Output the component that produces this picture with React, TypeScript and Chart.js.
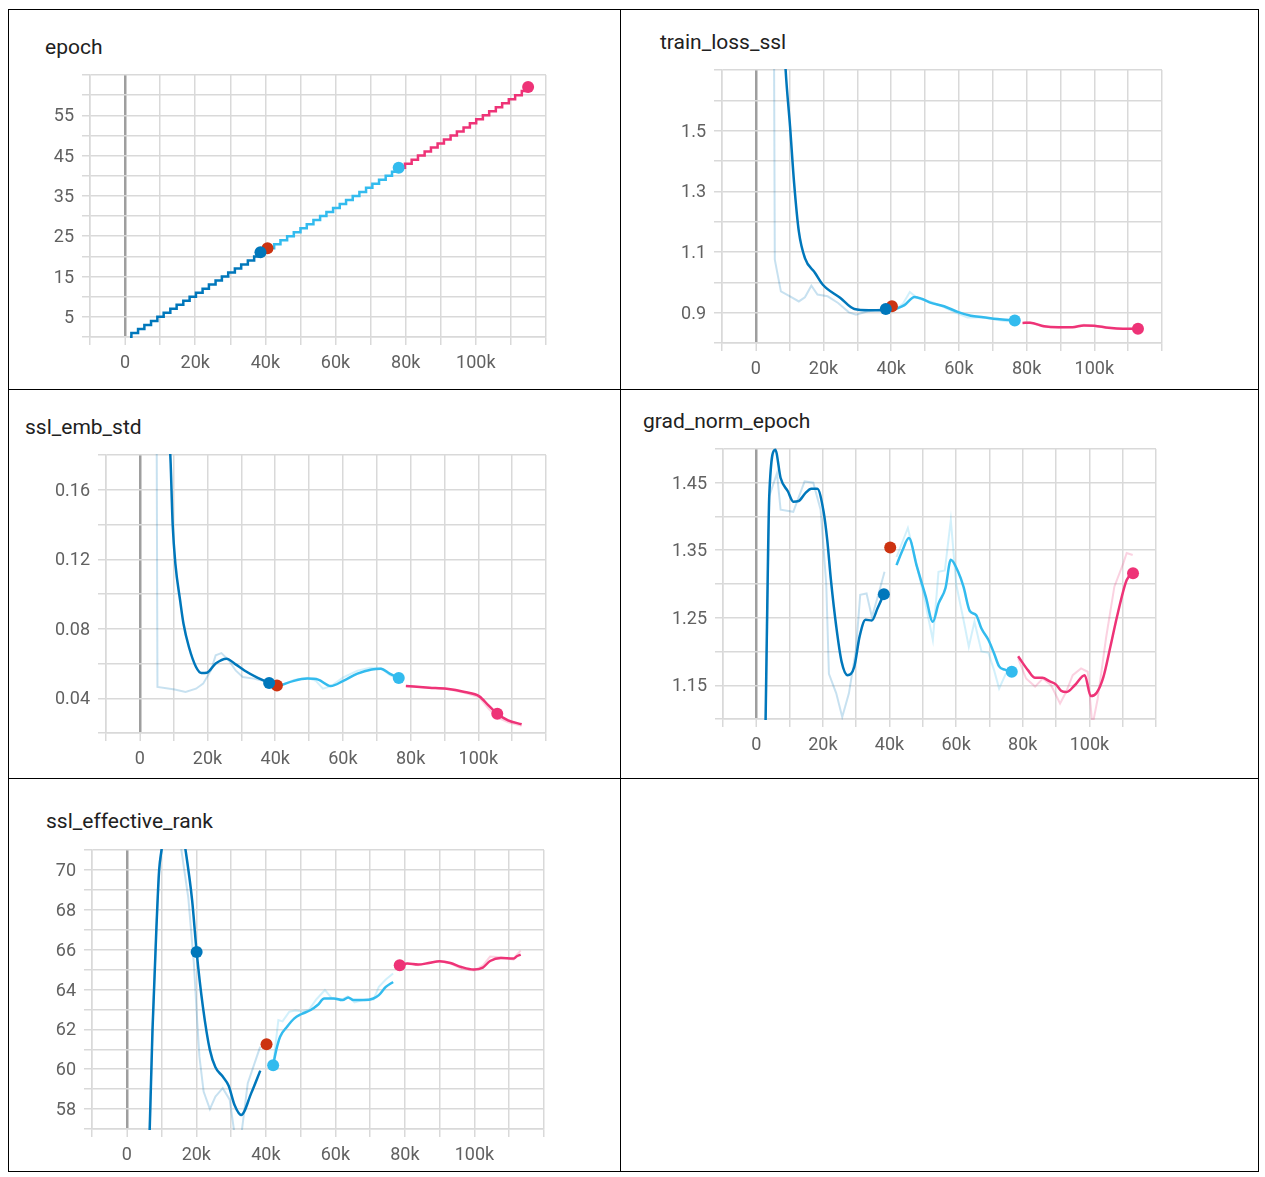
import React, { useEffect, useRef } from 'react';
import { Chart, registerables } from 'chart.js';

Chart.register(...registerables);

// ---------- colours (TensorBoard run palette) ----------
const BLUE = '#0077bb';
const RED = '#cc3311';
const CYAN = '#33bbee';
const MAGENTA = '#ee3377';
const GRID = '#d9d9d9';
const ZERO_LINE = '#9e9e9e';
const TICK_TEXT = '#616161';
const TITLE_TEXT = '#212121';

// ---------- x axis (steps, in thousands) ----------
const xTickLabels = [0, 20, 40, 60, 80, 100];

// ---------- epoch ----------
const epochYLabels = [5, 15, 25, 35, 45, 55];
const epochBlueSteps = [1.4, 1.8, 3.7, 5.5, 7.4, 9.2, 11.0, 12.9, 14.7, 16.6, 18.4, 20.2, 22.1, 23.9, 25.8, 27.6, 29.4, 31.3, 33.1, 35.0, 36.8, 38.6];
const epochBlueValues = [0, 1, 2, 3, 4, 5, 6, 7, 8, 9, 10, 11, 12, 13, 14, 15, 16, 17, 18, 19, 20, 21];
const epochCyanSteps = [40.6, 42.5, 44.3, 46.2, 48.1, 50.0, 51.8, 53.7, 55.6, 57.4, 59.3, 61.2, 63.0, 64.9, 66.8, 68.7, 70.5, 72.4, 74.3, 76.1, 78.0];
const epochCyanValues = [22, 23, 24, 25, 26, 27, 28, 29, 30, 31, 32, 33, 34, 35, 36, 37, 38, 39, 40, 41, 42];
const epochMagentaSteps = [78.0, 79.8, 81.7, 83.5, 85.4, 87.2, 89.1, 90.9, 92.8, 94.6, 96.5, 98.3, 100.1, 102.0, 103.8, 105.7, 107.5, 109.4, 111.2, 113.1, 114.9];
const epochMagentaValues = [42, 43, 44, 45, 46, 47, 48, 49, 50, 51, 52, 53, 54, 55, 56, 57, 58, 59, 60, 61, 62];
const epochDotSteps = [40.6, 78.0, 114.9, 38.6];
const epochDotValues = [22, 42, 62, 21];

// ---------- train_loss_ssl ----------
const lossYLabels = [0.9, 1.1, 1.3, 1.5];
const lossBlueSteps = [5.1, 7.5, 8.8, 10.1, 11.3, 12.7, 14.5, 17.5, 19.8, 24.9, 29.1, 33.4, 36.7, 38.4];
const lossBlueSmooth = [2.6, 2.0, 1.7, 1.515, 1.328, 1.168, 1.08, 1.031, 0.992, 0.949, 0.912, 0.908, 0.908, 0.912];
const lossBlueRawSteps = [5.1, 5.6, 7.4, 10.1, 12.7, 14.5, 16.4, 18.2, 21.2, 24.3, 27.5, 29.6, 33.4, 36.2, 38.4];
const lossBlueRaw = [2.6, 1.075, 0.97, 0.954, 0.937, 0.951, 0.989, 0.96, 0.954, 0.932, 0.901, 0.893, 0.905, 0.91, 0.912];
const lossCyanSteps = [41.3, 43.9, 46.9, 49.2, 51.3, 55.6, 59.8, 63.5, 67.2, 71.4, 76.5];
const lossCyanSmooth = [0.912, 0.925, 0.952, 0.945, 0.934, 0.921, 0.902, 0.89, 0.885, 0.879, 0.874];
const lossCyanRawSteps = [41.3, 43.5, 45.5, 47.5, 49.5, 52.0, 55.5, 58.0, 60.0, 62.5, 65.0, 68.0, 71.5, 74.0, 76.5];
const lossCyanRaw = [0.912, 0.93, 0.968, 0.95, 0.942, 0.935, 0.918, 0.905, 0.895, 0.884, 0.885, 0.882, 0.876, 0.872, 0.874];
const lossMagentaSteps = [78.8, 81.0, 85.2, 89.4, 93.6, 96.9, 100.0, 104.3, 108.5, 112.9];
const lossMagentaSmooth = [0.866, 0.867, 0.855, 0.852, 0.852, 0.858, 0.857, 0.85, 0.847, 0.847];
const lossMagentaRaw = [0.866, 0.868, 0.853, 0.851, 0.853, 0.86, 0.856, 0.849, 0.846, 0.848];
const lossDotSteps = [40.2, 76.5, 112.9, 38.4];
const lossDotValues = [0.921, 0.874, 0.847, 0.912];

// ---------- ssl_emb_std ----------
const stdYLabels = [0.04, 0.08, 0.12, 0.16];
const stdBlueSteps = [4.8, 7.0, 9.0, 9.7, 10.5, 11.9, 12.9, 14.5, 16.6, 18.2, 19.8, 22.4, 25.6, 28.3, 30.9, 34.7, 38.2];
const stdBlueSmooth = [0.3, 0.22, 0.18, 0.14, 0.1174, 0.0963, 0.0829, 0.0695, 0.058, 0.0545, 0.0547, 0.06, 0.0628, 0.0595, 0.056, 0.0519, 0.0488];
const stdBlueRawSteps = [4.8, 5.2, 10.3, 13.5, 16.6, 18.7, 21.0, 22.4, 24.1, 26.3, 28.3, 30.4, 33.6, 37.9];
const stdBlueRaw = [0.3, 0.0465, 0.045, 0.0436, 0.0455, 0.0484, 0.056, 0.0647, 0.066, 0.0618, 0.056, 0.0522, 0.0513, 0.0493];
const stdCyanSteps = [41.5, 45.5, 49.5, 52.7, 56.4, 60.1, 64.3, 68.5, 71.2, 73.8, 76.5];
const stdCyanSmooth = [0.0474, 0.05, 0.0513, 0.0507, 0.047, 0.05, 0.0542, 0.0566, 0.057, 0.0542, 0.0516];
const stdCyanRawSteps = [41.5, 45.5, 49.5, 52.0, 54.1, 56.5, 60.1, 64.3, 68.0, 71.2, 73.8, 76.5];
const stdCyanRaw = [0.0474, 0.0505, 0.0518, 0.05, 0.0455, 0.047, 0.052, 0.0558, 0.0575, 0.0574, 0.0535, 0.051];
const stdMagentaSteps = [78.6, 85.5, 90.7, 96.0, 100.3, 103.0, 105.6, 108.8, 112.8];
const stdMagentaSmooth = [0.047, 0.0461, 0.0455, 0.0436, 0.0411, 0.0359, 0.0311, 0.0273, 0.025];
const stdMagentaRaw = [0.047, 0.046, 0.0453, 0.0432, 0.0405, 0.034, 0.029, 0.0262, 0.0242];
const stdDotSteps = [40.5, 76.5, 105.6, 38.2];
const stdDotValues = [0.0474, 0.0516, 0.0311, 0.0488];

// ---------- grad_norm_epoch ----------
const gradYLabels = [1.15, 1.25, 1.35, 1.45];
const gradBlueSteps = [2.5, 3.2, 3.9, 5.7, 7.3, 9.5, 11.1, 12.7, 14.8, 16.5, 18.3, 20.2, 21.3, 22.4, 24.0, 25.6, 27.4, 29.4, 31.0, 32.8, 34.7, 36.4, 38.3];
const gradBlueSmooth = [1.0, 1.237, 1.432, 1.499, 1.457, 1.437, 1.422, 1.423, 1.435, 1.441, 1.441, 1.407, 1.365, 1.306, 1.237, 1.185, 1.165, 1.177, 1.222, 1.247, 1.246, 1.264, 1.285];
const gradBlueRawSteps = [2.5, 3.9, 6.2, 7.3, 11.1, 14.5, 17.1, 19.3, 21.0, 21.8, 24.0, 25.8, 27.8, 29.9, 31.2, 33.1, 34.7, 36.4, 38.5];
const gradBlueRaw = [1.0, 1.43, 1.464, 1.41, 1.407, 1.452, 1.45, 1.41, 1.3, 1.167, 1.138, 1.103, 1.138, 1.202, 1.284, 1.286, 1.251, 1.28, 1.318];
const gradCyanSteps = [42.1, 43.9, 45.8, 48.2, 50.9, 53.0, 54.7, 56.8, 58.4, 60.6, 62.2, 64.1, 66.0, 67.6, 69.7, 71.4, 72.9, 74.6, 76.7];
const gradCyanSmooth = [1.328, 1.35, 1.368, 1.326, 1.281, 1.244, 1.271, 1.294, 1.336, 1.318, 1.296, 1.26, 1.254, 1.234, 1.217, 1.197, 1.178, 1.173, 1.17];
const gradCyanRawSteps = [42.1, 45.5, 47.6, 50.4, 53.0, 54.7, 56.6, 58.4, 60.0, 62.2, 63.8, 65.5, 67.6, 69.7, 71.4, 72.9, 74.9, 76.7];
const gradCyanRaw = [1.34, 1.383, 1.34, 1.28, 1.217, 1.318, 1.32, 1.395, 1.3, 1.247, 1.207, 1.244, 1.2, 1.198, 1.172, 1.145, 1.167, 1.17];
const gradMagentaSteps = [78.6, 81.6, 83.7, 85.9, 88.0, 90.0, 91.5, 93.2, 95.6, 98.6, 100.4, 102.2, 104.2, 106.3, 108.5, 111.2, 113.1];
const gradMagentaSmooth = [1.193, 1.172, 1.161, 1.161, 1.156, 1.151, 1.142, 1.14, 1.15, 1.165, 1.134, 1.139, 1.162, 1.207, 1.256, 1.306, 1.316];
const gradMagentaRawSteps = [78.6, 81.0, 83.7, 86.0, 88.5, 91.2, 93.0, 95.0, 97.5, 99.5, 100.9, 102.5, 105.0, 107.5, 110.2, 111.2, 113.0];
const gradMagentaRaw = [1.19, 1.16, 1.148, 1.16, 1.15, 1.123, 1.14, 1.165, 1.175, 1.17, 1.09, 1.13, 1.22, 1.296, 1.331, 1.346, 1.343];
const gradDotSteps = [40.2, 76.7, 113.1, 38.3];
const gradDotValues = [1.354, 1.17, 1.316, 1.285];

// ---------- ssl_effective_rank ----------
const rankYLabels = [58, 60, 62, 64, 66, 68, 70];
const rankBlueSteps = [6.3, 6.6, 7.4, 8.5, 9.3, 10.0, 13.0, 16.9, 18.8, 20.1, 21.9, 23.9, 25.5, 27.6, 29.3, 31.0, 32.9, 35.8, 38.4];
const rankBlueSmooth = [55.5, 57.0, 61.97, 66.97, 69.97, 71.0, 75.0, 71.0, 68.47, 65.88, 63.13, 60.97, 60.1, 59.63, 59.17, 58.2, 57.7, 58.8, 59.93];
const rankBlueRawSteps = [6.3, 6.6, 7.4, 8.5, 9.3, 10.0, 12.0, 15.7, 17.7, 19.3, 20.3, 20.9, 22.1, 23.9, 25.5, 27.6, 29.6, 31.2, 32.8, 34.8, 37.4, 38.4];
const rankBlueRaw = [55.5, 57.0, 61.97, 66.97, 69.97, 71.0, 78.0, 71.0, 68.6, 65.3, 62.3, 60.63, 58.88, 58.0, 58.63, 59.05, 58.47, 56.5, 56.5, 59.3, 60.63, 61.13];
const rankCyanSteps = [42.1, 43.0, 44.1, 46.1, 48.2, 50.3, 52.9, 54.9, 56.8, 59.6, 62.1, 63.7, 65.2, 68.4, 70.9, 72.5, 74.5, 76.6];
const rankCyanSmooth = [60.2, 60.97, 61.63, 62.13, 62.55, 62.77, 62.97, 63.22, 63.55, 63.55, 63.47, 63.6, 63.47, 63.47, 63.55, 63.72, 64.13, 64.38];
const rankCyanRawSteps = [42.1, 43.6, 44.8, 46.7, 48.5, 50.5, 52.5, 54.5, 57.0, 59.0, 61.5, 63.5, 65.5, 68.5, 71.0, 72.5, 74.5, 76.6];
const rankCyanRaw = [60.2, 62.47, 62.4, 62.88, 62.95, 62.9, 63.0, 63.5, 63.97, 63.55, 63.45, 63.65, 63.35, 63.5, 63.5, 64.13, 64.5, 64.8];
const rankMagentaSteps = [78.5, 80.7, 83.8, 86.9, 90.0, 93.1, 96.2, 99.8, 102.4, 104.5, 107.6, 111.2, 112.2, 113.3];
const rankMagentaSmooth = [65.22, 65.3, 65.25, 65.33, 65.42, 65.33, 65.13, 65.0, 65.1, 65.43, 65.58, 65.55, 65.67, 65.75];
const rankMagentaRaw = [65.22, 65.32, 65.22, 65.36, 65.42, 65.3, 65.05, 64.95, 65.2, 65.65, 65.62, 65.5, 65.75, 65.95];
const rankDotSteps = [40.2, 42.1, 78.5, 20.1];
const rankDotValues = [61.25, 60.2, 65.22, 65.88];

const dotColors = [RED, CYAN, MAGENTA, BLUE];

// ---------- panel definitions ----------
type Series = { steps: number[]; values: number[]; color: string; kind: 'smooth' | 'raw' | 'step' };
type Panel = {
  title: string;
  titlePos: [number, number];
  canvas: [number, number, number, number];
  area: [number, number, number, number];
  yMin: number;
  yMax: number;
  yStep: number;
  yLabels: number[];
  series: Series[];
  dotSteps: number[];
  dotValues: number[];
};

const panels: Panel[] = [
  {
    title: 'epoch',
    titlePos: [45, 47],
    canvas: [20, 50, 580, 335],
    area: [90, 75, 546, 337],
    yMin: 0, yMax: 65, yStep: 5, yLabels: epochYLabels,
    series: [
      { steps: epochBlueSteps, values: epochBlueValues, color: BLUE, kind: 'step' },
      { steps: epochCyanSteps, values: epochCyanValues, color: CYAN, kind: 'step' },
      { steps: epochMagentaSteps, values: epochMagentaValues, color: MAGENTA, kind: 'step' },
    ],
    dotSteps: epochDotSteps, dotValues: epochDotValues,
  },
  {
    title: 'train_loss_ssl',
    titlePos: [660, 42],
    canvas: [640, 45, 580, 340],
    area: [722, 70, 1162, 343],
    yMin: 0.8, yMax: 1.7, yStep: 0.1, yLabels: lossYLabels,
    series: [
      { steps: lossBlueRawSteps, values: lossBlueRaw, color: BLUE, kind: 'raw' },
      { steps: lossCyanRawSteps, values: lossCyanRaw, color: CYAN, kind: 'raw' },
      { steps: lossMagentaSteps, values: lossMagentaRaw, color: MAGENTA, kind: 'raw' },
      { steps: lossBlueSteps, values: lossBlueSmooth, color: BLUE, kind: 'smooth' },
      { steps: lossCyanSteps, values: lossCyanSmooth, color: CYAN, kind: 'smooth' },
      { steps: lossMagentaSteps, values: lossMagentaSmooth, color: MAGENTA, kind: 'smooth' },
    ],
    dotSteps: lossDotSteps, dotValues: lossDotValues,
  },
  {
    title: 'ssl_emb_std',
    titlePos: [25, 427],
    canvas: [20, 430, 580, 345],
    area: [106, 455, 546, 733],
    yMin: 0.02, yMax: 0.18, yStep: 0.02, yLabels: stdYLabels,
    series: [
      { steps: stdBlueRawSteps, values: stdBlueRaw, color: BLUE, kind: 'raw' },
      { steps: stdCyanRawSteps, values: stdCyanRaw, color: CYAN, kind: 'raw' },
      { steps: stdMagentaSteps, values: stdMagentaRaw, color: MAGENTA, kind: 'raw' },
      { steps: stdBlueSteps, values: stdBlueSmooth, color: BLUE, kind: 'smooth' },
      { steps: stdCyanSteps, values: stdCyanSmooth, color: CYAN, kind: 'smooth' },
      { steps: stdMagentaSteps, values: stdMagentaSmooth, color: MAGENTA, kind: 'smooth' },
    ],
    dotSteps: stdDotSteps, dotValues: stdDotValues,
  },
  {
    title: 'grad_norm_epoch',
    titlePos: [643, 421],
    canvas: [640, 424, 580, 344],
    area: [723, 449, 1156, 719],
    yMin: 1.1, yMax: 1.5, yStep: 0.05, yLabels: gradYLabels,
    series: [
      { steps: gradBlueRawSteps, values: gradBlueRaw, color: BLUE, kind: 'raw' },
      { steps: gradCyanRawSteps, values: gradCyanRaw, color: CYAN, kind: 'raw' },
      { steps: gradMagentaRawSteps, values: gradMagentaRaw, color: MAGENTA, kind: 'raw' },
      { steps: gradBlueSteps, values: gradBlueSmooth, color: BLUE, kind: 'smooth' },
      { steps: gradCyanSteps, values: gradCyanSmooth, color: CYAN, kind: 'smooth' },
      { steps: gradMagentaSteps, values: gradMagentaSmooth, color: MAGENTA, kind: 'smooth' },
    ],
    dotSteps: gradDotSteps, dotValues: gradDotValues,
  },
  {
    title: 'ssl_effective_rank',
    titlePos: [46, 821],
    canvas: [20, 825, 580, 345],
    area: [92, 850, 544, 1129],
    yMin: 57, yMax: 71, yStep: 1, yLabels: rankYLabels,
    series: [
      { steps: rankBlueRawSteps, values: rankBlueRaw, color: BLUE, kind: 'raw' },
      { steps: rankCyanRawSteps, values: rankCyanRaw, color: CYAN, kind: 'raw' },
      { steps: rankMagentaSteps, values: rankMagentaRaw, color: MAGENTA, kind: 'raw' },
      { steps: rankBlueSteps, values: rankBlueSmooth, color: BLUE, kind: 'smooth' },
      { steps: rankCyanSteps, values: rankCyanSmooth, color: CYAN, kind: 'smooth' },
      { steps: rankMagentaSteps, values: rankMagentaSmooth, color: MAGENTA, kind: 'smooth' },
    ],
    dotSteps: rankDotSteps, dotValues: rankDotValues,
  },
];

function hexToRgba(hex: string, a: number) {
  const n = parseInt(hex.slice(1), 16);
  return `rgba(${(n >> 16) & 255},${(n >> 8) & 255},${n & 255},${a})`;
}

const tickFont = { family: 'Roboto, "Noto Sans", sans-serif', size: 18 };

function ChartPanel({ p }: { p: Panel }) {
  const ref = useRef<HTMLCanvasElement | null>(null);
  useEffect(() => {
    const [cx, cy, cw, ch] = p.canvas;
    const [l, t, r, b] = p.area;
    const datasets: any[] = [];
    p.series.forEach((s) => {
      const data = s.steps.map((x, i) => ({ x, y: s.values[i] }));
      if (s.kind === 'raw') {
        datasets.push({
          data, borderColor: hexToRgba(s.color, 0.22), borderWidth: 2,
          pointRadius: 0, tension: 0, order: 30, clip: 1,
        });
      } else if (s.kind === 'smooth') {
        datasets.push({
          data, borderColor: s.color, borderWidth: 2.5, pointRadius: 0,
          cubicInterpolationMode: 'monotone', order: 20, clip: 1,
        });
      } else {
        datasets.push({
          data, borderColor: s.color, borderWidth: 2.5, pointRadius: 0,
          stepped: true, order: 20, clip: 1,
        });
      }
    });
    p.dotSteps.forEach((x, i) => {
      datasets.push({
        data: [{ x, y: p.dotValues[i] }], showLine: false,
        pointRadius: 6, pointBorderWidth: 0,
        pointBackgroundColor: dotColors[i], borderColor: dotColors[i],
        order: 10 - i, clip: false,
      });
    });
    const matchLabel = (labels: number[], v: number) => labels.find((lv) => Math.abs(lv - v) < 1e-7);
    const chart = new Chart(ref.current as HTMLCanvasElement, {
      type: 'line',
      data: { datasets },
      options: {
        responsive: false,
        animation: false,
        events: [],
        devicePixelRatio: 1,
        layout: { padding: { top: t - cy, right: cx + cw - r, left: 0, bottom: 0 } },
        plugins: { legend: { display: false }, tooltip: { enabled: false } },
        scales: {
          x: {
            type: 'linear', min: -10, max: 120,
            afterFit: (s: any) => { s.height = cy + ch - b; },
            ticks: {
              stepSize: 10, autoSkip: false, maxRotation: 0, minRotation: 0, padding: 8,
              color: TICK_TEXT, font: tickFont,
              callback: (v: any) => {
                const m = matchLabel(xTickLabels, Number(v));
                return m === undefined ? '' : m === 0 ? '0' : `${m}k`;
              },
            },
            grid: {
              color: (c: any) => (c.tick && Math.abs(c.tick.value) < 1e-9 ? ZERO_LINE : GRID),
              lineWidth: (c: any) => (c.tick && Math.abs(c.tick.value) < 1e-9 ? 2.5 : 1.5),
              tickColor: GRID, tickWidth: 1.5, tickLength: 8,
            },
            border: { color: GRID, width: 1.5 },
          },
          y: {
            type: 'linear', min: p.yMin, max: p.yMax,
            afterFit: (s: any) => { s.width = l - cx; },
            ticks: {
              stepSize: p.yStep, autoSkip: false, padding: 8, labelOffset: 1.5,
              color: TICK_TEXT, font: tickFont,
              callback: (v: any) => {
                const m = matchLabel(p.yLabels, Number(v));
                return m === undefined ? '' : String(m);
              },
            },
            grid: { color: GRID, lineWidth: 1.5, tickColor: GRID, tickWidth: 1.5, tickLength: 8 },
            border: { color: GRID, width: 1.5 },
          },
        },
      } as any,
    });
    return () => chart.destroy();
  }, [p]);
  const [cx, cy, cw, ch] = p.canvas;
  return (
    <canvas
      ref={ref}
      width={cw}
      height={ch}
      style={{ position: 'absolute', left: cx, top: cy, width: cw, height: ch }}
    />
  );
}

export default function App() {
  const line = '#000';
  return (
    <div style={{ position: 'absolute', left: 0, top: 0, width: 1265, height: 1177, background: '#fff' }}>
      <div style={{ position: 'absolute', left: 8, top: 9, width: 1251, height: 1163, border: `1px solid ${line}`, boxSizing: 'border-box' }} />
      <div style={{ position: 'absolute', left: 620, top: 9, width: 1, height: 1163, background: line }} />
      <div style={{ position: 'absolute', left: 8, top: 389, width: 1251, height: 1, background: line }} />
      <div style={{ position: 'absolute', left: 8, top: 778, width: 1251, height: 1, background: line }} />
      {panels.map((p) => (
        <div
          key={p.title + '-t'}
          style={{
            position: 'absolute', left: p.titlePos[0], top: p.titlePos[1] - 12,
            height: 24, lineHeight: '24px', fontFamily: 'Roboto, "Noto Sans", sans-serif',
            fontSize: 21, color: TITLE_TEXT, whiteSpace: 'nowrap',
          }}
        >
          {p.title}
        </div>
      ))}
      {panels.map((p) => (
        <ChartPanel key={p.title} p={p} />
      ))}
    </div>
  );
}
